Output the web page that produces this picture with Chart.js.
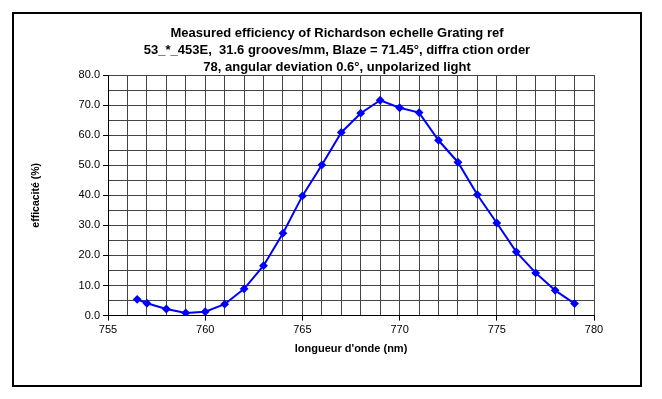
<!DOCTYPE html>
<html>
<head>
<meta charset="utf-8">
<script src="https://cdn.jsdelivr.net/npm/chart.js@4.4.0/dist/chart.umd.min.js"></script>
<style>
    body { margin: 0; background: #fff; }
    #wrap { position: relative; width: 662px; height: 399px; }
    #frame { position: absolute; left: 12px; top: 12px; width: 626px; height: 371px; border: 2px solid #000; pointer-events: none; }
</style>
</head>
<body>
<div id="wrap">
    <canvas id="myChart" width="662" height="399"></canvas>
    <div id="frame"></div>
</div>
<script>
// Données
const wavelengths = [756.5, 757, 758, 759, 760, 761, 762, 763, 764, 765, 766, 767, 768, 769, 770, 771, 772, 773, 774, 775, 776, 777, 778, 779];
const efficiency = [5.4, 4.1, 2.2, 0.9, 1.3, 3.8, 8.9, 16.6, 27.4, 39.8, 50.1, 60.9, 67.3, 71.6, 69.1, 67.5, 58.3, 51.0, 40.2, 30.8, 21.2, 14.2, 8.4, 4.0];

const titleLines = [
    'Measured efficiency of Richardson echelle Grating ref',
    '53_*_453E,  31.6 grooves/mm, Blaze = 71.45°, diffra ction order',
    '78, angular deviation 0.6°, unpolarized light'
];
const xTitle = "longueur d'onde (nm)";
const yTitle = 'efficacité (%)';

const points = wavelengths.map((x, i) => ({ x: x, y: efficiency[i] }));

// Titre sur trois lignes, centré comme dans Excel
const titlePlugin = {
    id: 'excelTitle',
    afterDraw(chart) {
        const ctx = chart.ctx;
        ctx.save();
        ctx.font = 'bold 13px "Liberation Sans", Arial, sans-serif';
        ctx.fillStyle = '#000';
        ctx.textAlign = 'center';
        ctx.textBaseline = 'middle';
        titleLines.forEach((line, i) => {
            ctx.fillText(line, 337, 33 + i * 17);
        });
        ctx.restore();
    }
};

const ctx = document.getElementById('myChart').getContext('2d');
const myChart = new Chart(ctx, {
    type: 'line',
    data: {
        datasets: [{
            data: points,
            borderColor: '#0000FF',
            backgroundColor: '#0000FF',
            borderWidth: 2,
            pointStyle: 'rectRot',
            pointRadius: 3,
            pointHoverRadius: 3,
            tension: 0,
            fill: false
        }]
    },
    options: {
        responsive: false,
        animation: false,
        layout: {
            padding: { left: 26, right: 68, top: 75, bottom: 39 }
        },
        plugins: {
            legend: { display: false },
            tooltip: { enabled: false }
        },
        scales: {
            x: {
                type: 'linear',
                min: 755,
                max: 780,
                ticks: {
                    stepSize: 1,
                    autoSkip: false,
                    maxRotation: 0,
                    color: '#000',
                    font: { family: '"Liberation Sans", Arial', size: 11 },
                    callback: v => v % 5 === 0 ? v : ''
                },
                grid: {
                    color: '#444',
                    lineWidth: 1,
                    tickLength: 5,
                    tickColor: c => (c.tick && c.tick.value % 5 === 0) ? '#000' : 'rgba(0,0,0,0)'
                },
                border: { color: '#000', width: 1 },
                title: {
                    display: true,
                    text: xTitle,
                    color: '#000',
                    font: { family: '"Liberation Sans", Arial', size: 11, weight: 'bold' },
                    padding: { top: 3 }
                }
            },
            y: {
                min: 0,
                max: 80,
                ticks: {
                    stepSize: 5,
                    autoSkip: false,
                    color: '#000',
                    font: { family: '"Liberation Sans", Arial', size: 11 },
                    callback: v => v % 10 === 0 ? v.toFixed(1) : ''
                },
                grid: {
                    color: '#444',
                    lineWidth: 1,
                    tickLength: 5,
                    tickColor: c => (c.tick && c.tick.value % 10 === 0) ? '#000' : 'rgba(0,0,0,0)'
                },
                border: { color: '#000', width: 1 },
                title: {
                    display: true,
                    text: yTitle,
                    color: '#000',
                    font: { family: '"Liberation Sans", Arial', size: 10.5, weight: 'bold' },
                    padding: { top: 4, bottom: 33 }
                }
            }
        }
    },
    plugins: [titlePlugin]
});
</script>
</body>
</html>
